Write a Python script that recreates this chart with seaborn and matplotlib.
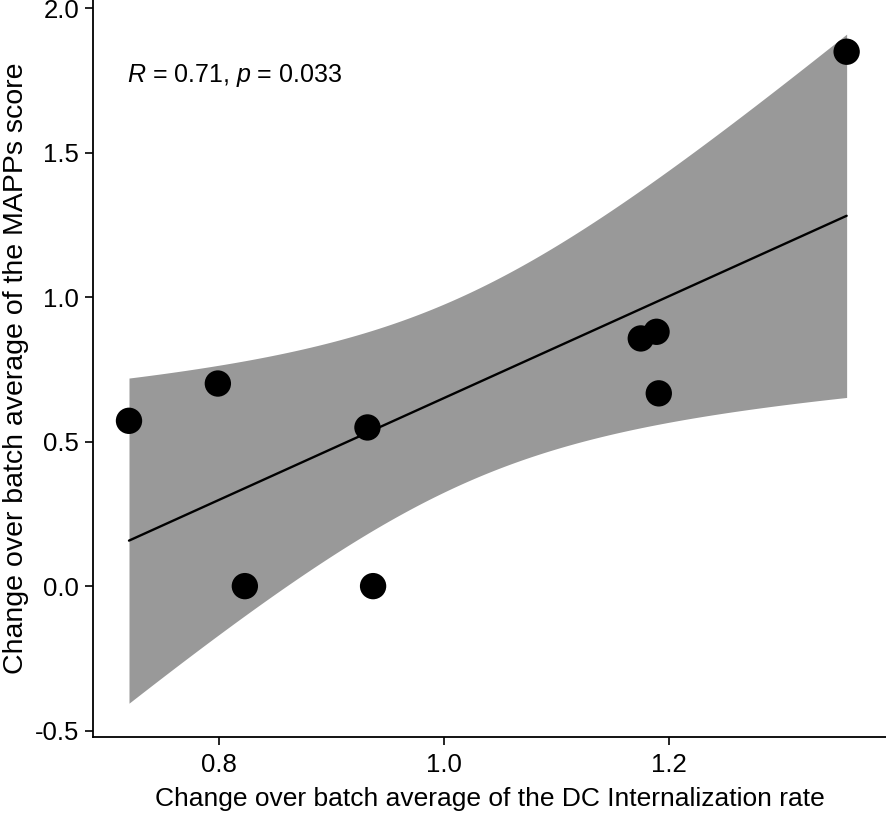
import numpy as np
import pandas as pd
import seaborn as sns
import matplotlib
matplotlib.use("Agg")
import matplotlib.pyplot as plt

# Data
dc_rate = [0.720, 0.799, 0.823, 0.932, 0.937, 1.175, 1.189, 1.191, 1.358]
mapps_score = [0.572, 0.701, 0.000, 0.549, 0.000, 0.857, 0.880, 0.667, 1.849]
x_ticks = [0.8, 1.0, 1.2]
y_ticks = [-0.5, 0.0, 0.5, 1.0, 1.5, 2.0]
annotation = "$\\it{R}$ = 0.71, $\\it{p}$ = 0.033"
x_label = "Change over batch average of the DC Internalization rate"
y_label = "Change over batch average of the MAPPs score"

df = pd.DataFrame({"x": dc_rate, "y": mapps_score})

sns.set_theme(style="white")
plt.rcParams['font.family'] = ['Liberation Sans', 'DejaVu Sans']
plt.rcParams['mathtext.fontset'] = 'custom'
plt.rcParams['mathtext.rm'] = 'Liberation Sans'
plt.rcParams['mathtext.it'] = 'Liberation Sans:italic'

W, H = 886, 814
fig = plt.figure(figsize=(W / 100, H / 100), dpi=100)
ax = fig.add_axes([93 / W, (H - 737) / H, (W - 93) / W, 737 / H])

# Analytic 95% confidence band for the linear fit (as in ggplot geom_smooth)
x = np.asarray(dc_rate)
y = np.asarray(mapps_score)
n = len(x)
slope, intercept = np.polyfit(x, y, 1)
resid = y - (slope * x + intercept)
s = np.sqrt(np.sum(resid ** 2) / (n - 2))
sxx = np.sum((x - x.mean()) ** 2)
grid = np.linspace(x.min(), x.max(), 200)
fit = slope * grid + intercept
se = s * np.sqrt(1 / n + (grid - x.mean()) ** 2 / sxx)
t_crit = 2.3646
ax.fill_between(grid, fit - t_crit * se, fit + t_crit * se, color="#999999", lw=0, zorder=1)

sns.regplot(data=df, x="x", y="y", ax=ax, ci=None, truncate=True,
            scatter_kws=dict(s=360, color="black", edgecolor="none", zorder=3, alpha=1),
            line_kws=dict(color="black", lw=1.7, zorder=2))

ax.set_xlim(0.688, 1.393)
ax.set_ylim(-0.522, 2.028)
ax.set_xticks(x_ticks)
ax.set_xticklabels([f"{v:.1f}" for v in x_ticks])
ax.set_yticks(y_ticks)
ax.set_yticklabels([f"{v:.1f}" for v in y_ticks])

for side in ["top", "right"]:
    ax.spines[side].set_visible(False)
for side in ["left", "bottom"]:
    ax.spines[side].set_color("black")
    ax.spines[side].set_linewidth(1.3)

ax.tick_params(axis="both", which="major", direction="out", length=5.5, width=1.2,
               color="black", labelcolor="black", labelsize=18.5, pad=4.5, left=True, bottom=True)
ax.tick_params(axis="x", pad=6)

ax.set_xlabel(x_label, fontsize=19.0, color="black", labelpad=7)
ax.set_ylabel(y_label, fontsize=20.5, color="black", labelpad=4)

ax.text(0.718, 1.768, annotation, fontsize=18, color="black", ha="left", va="center")

fig.savefig("out.png", dpi=100)
